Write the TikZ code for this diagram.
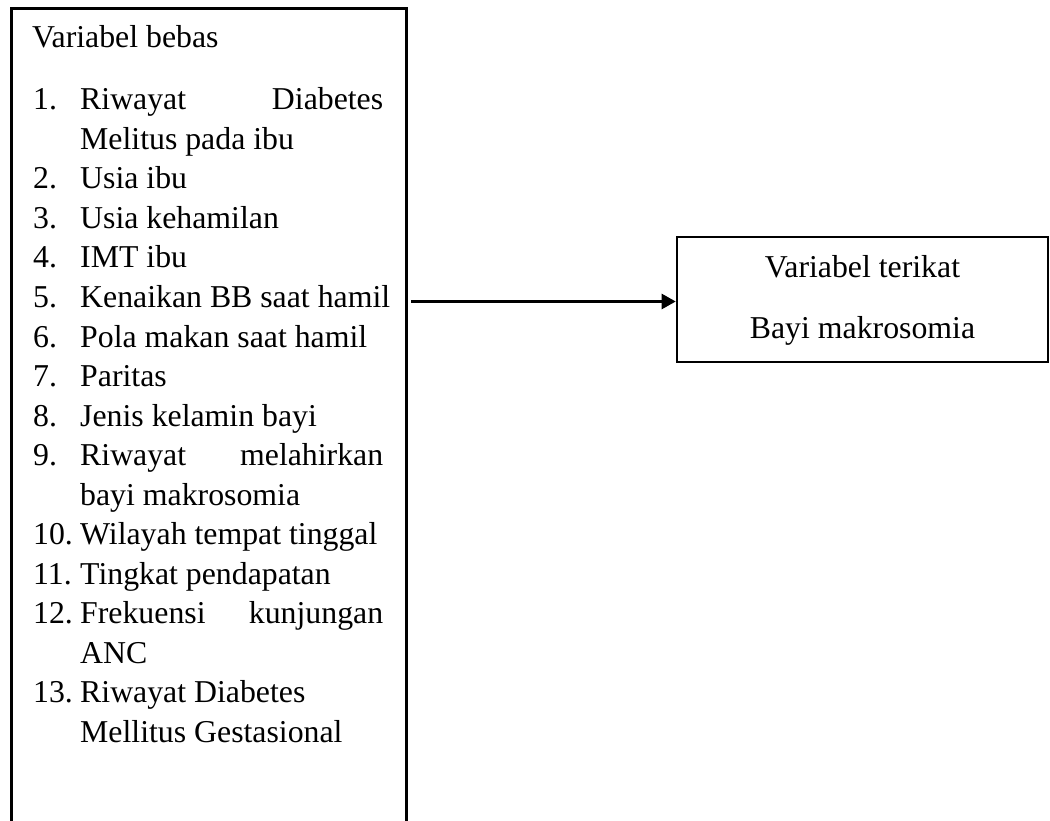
\documentclass[tikz,border=0pt]{standalone}
\usepackage{fontspec}
\setmainfont{Liberation Serif}
\usetikzlibrary{arrows.meta}
\begin{document}
\begin{tikzpicture}[x=1pt,y=-1pt,
  txt/.style={anchor=base west, inner sep=0pt, font=\fontsize{31.8}{39.5}\selectfont},
  ctxt/.style={txt, anchor=base},
  box/.style={draw, line width=2.6pt, inner sep=0pt},
  conn/.style={line width=2.6pt, -{Triangle[length=14pt,width=15pt]}}]
\useasboundingbox (0,0) rectangle (1050,821);
\clip (0,0) rectangle (1050,821);
% boxes
\node[box, anchor=north west, minimum width=395pt, minimum height=840pt] (bebas) at (10,7) {};
\node[box, minimum width=371pt, minimum height=125pt] (terikat) at (862.5,299.5) {};
% left box text
\node[txt] (hdr) at (32,48) {Variabel bebas};
\node[txt] (n1) at (33,110) {1.};
\node[txt] (i1a) at (80,110) {\makebox[303pt][s]{Riwayat Diabetes}};
\node[txt] (i1b) at (80,149.5) {Melitus pada ibu};
\node[txt] (n2) at (33,189) {2.};
\node[txt] (i2) at (80,189) {Usia ibu};
\node[txt] (n3) at (33,228.5) {3.};
\node[txt] (i3) at (80,228.5) {Usia kehamilan};
\node[txt] (n4) at (33,268) {4.};
\node[txt] (i4) at (80,268) {IMT ibu};
\node[txt] (n5) at (33,307.5) {5.};
\node[txt] (i5) at (80,307.5) {Kenaikan BB saat hamil};
\node[txt] (n6) at (33,347) {6.};
\node[txt] (i6) at (80,347) {Pola makan saat hamil};
\node[txt] (n7) at (33,386.5) {7.};
\node[txt] (i7) at (80,386.5) {Paritas};
\node[txt] (n8) at (33,426) {8.};
\node[txt] (i8) at (80,426) {Jenis kelamin bayi};
\node[txt] (n9) at (33,465.5) {9.};
\node[txt] (i9a) at (80,465.5) {\makebox[303pt][s]{Riwayat melahirkan}};
\node[txt] (i9b) at (80,505) {bayi makrosomia};
\node[txt] (n10) at (33,544.5) {10.};
\node[txt] (i10) at (80,544.5) {Wilayah tempat tinggal};
\node[txt] (n11) at (33,584) {11.};
\node[txt] (i11) at (80,584) {Tingkat pendapatan};
\node[txt] (n12) at (33,623.5) {12.};
\node[txt] (i12a) at (80,623.5) {\makebox[303pt][s]{Frekuensi kunjungan}};
\node[txt] (i12b) at (80,663) {ANC};
\node[txt] (n13) at (33,702.5) {13.};
\node[txt] (i13a) at (80,702.5) {Riwayat Diabetes};
\node[txt] (i13b) at (80,742) {Mellitus Gestasional};
% right box text
\node[ctxt] (t1) at (862.5,278) {Variabel terikat};
\node[ctxt] (t2) at (862.5,338) {Bayi makrosomia};
% connector
\coordinate (tip) at ([yshift=-2pt]terikat.west);
\draw[conn] ([xshift=3.5pt]bebas.east |- tip) -- (tip);
\end{tikzpicture}
\end{document}
